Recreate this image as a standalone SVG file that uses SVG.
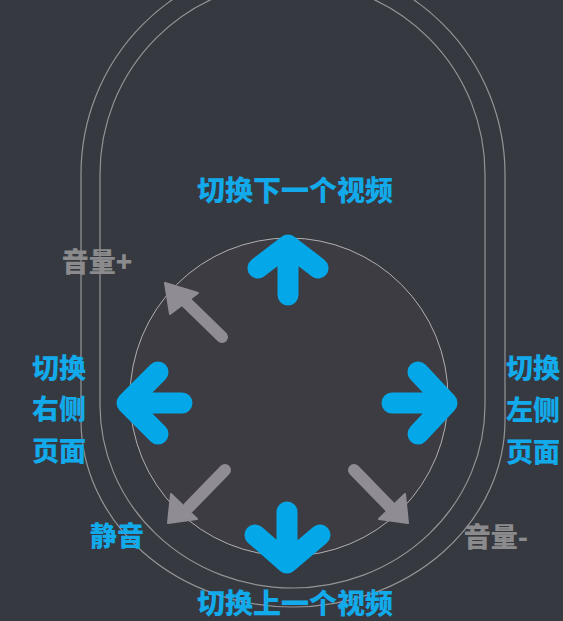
<svg xmlns="http://www.w3.org/2000/svg" width="563" height="621" viewBox="0 0 563 621">
<style>
.bg{fill:#363a40}
.shell{fill:none;stroke:#949496;stroke-width:1.2}
.pad{fill:#3e3c43;stroke:#b0afb3;stroke-width:1}
.blue{fill:none;stroke:#04a8e8;stroke-width:21;stroke-linecap:round;stroke-linejoin:round}
.grey{fill:none;stroke:#8f8c93;stroke-width:12;stroke-linecap:round}
.ghead{fill:#8f8c93;stroke:#8f8c93;stroke-width:2;stroke-linejoin:round}
text{font-family:"Noto Sans CJK SC","Noto Sans",sans-serif;font-weight:900;text-anchor:middle}
.tb{fill:#12aaea;font-size:27px}
.tg{fill:#8b8b8d;font-size:27px}
</style>
<rect class="bg" x="0" y="0" width="563" height="621"/>
<g id="shell">
<path class="shell" d="M81,174 A212,212 0 0 1 505,174 L505,420 A212,187 0 0 1 81,420 Z"/>
<path class="shell" d="M100,174 A192.5,192.5 0 0 1 485,174 L485,405 A192.5,183 0 0 1 100,405 Z"/>
</g>
<g id="pad">
<circle class="pad" cx="289" cy="397" r="159"/>
</g>
<g id="connectors">
<g id="arrow-up"><path class="blue" d="M288,295 L288,245 M258,268 L288,245 L318,268"/></g>
<g id="arrow-down"><path class="blue" d="M287,512 L287,563 M255,535 L287,563 L320,535"/></g>
<g id="arrow-left"><path class="blue" d="M182,403 L127,403 M158,372 L127,403 L158,434"/></g>
<g id="arrow-right"><path class="blue" d="M392,403 L447,403 M418,372 L447,403 L418,434"/></g>
<g id="arrow-ul"><path class="grey" d="M222,337 L185,301"/><polygon class="ghead" points="165,283 198,293 170,314"/></g>
<g id="arrow-ll"><path class="grey" d="M225,470 L189,507"/><polygon class="ghead" points="168,523 171,494 197,519"/></g>
<g id="arrow-lr"><path class="grey" d="M354,470 L390,507"/><polygon class="ghead" points="408,523 405,494 379,519"/></g>
</g>
<g id="label-next"><text class="tb" x="295" y="201" style="font-size:28px">切换下一个视频</text></g>
<g id="label-prev"><text class="tb" x="295" y="614" style="font-size:28px">切换上一个视频</text></g>
<g id="label-right-page"><text class="tb" x="59" y="378">切换</text><text class="tb" x="59" y="419">右侧</text><text class="tb" x="59" y="461">页面</text></g>
<g id="label-left-page"><text class="tb" x="533" y="378">切换</text><text class="tb" x="533" y="420">左侧</text><text class="tb" x="533" y="462">页面</text></g>
<g id="label-mute"><text class="tb" x="117" y="546">静音</text></g>
<g id="label-vol-up"><text class="tg" x="97" y="272">音量+</text></g>
<g id="label-vol-down"><text class="tg" x="496" y="547">音量-</text></g>
</svg>
